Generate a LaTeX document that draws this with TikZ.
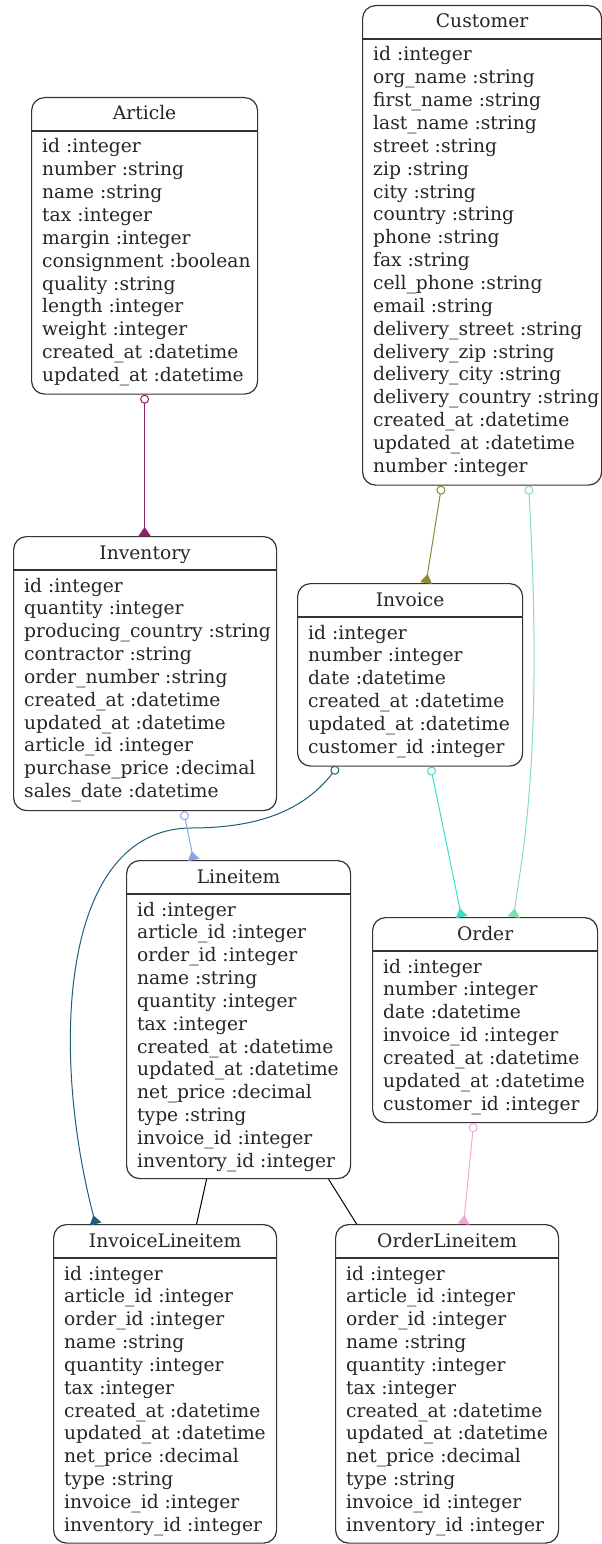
\documentclass[tikz,border=0pt]{standalone}
\usepackage{fontspec}
\setmainfont{DejaVu Serif}
\usetikzlibrary{calc,arrows.meta}
\definecolor{cA}{HTML}{8E1E6E}
\definecolor{cB}{HTML}{8C8A3A}
\definecolor{cC}{HTML}{86DDB0}
\definecolor{cD}{HTML}{3ADEC8}
\definecolor{cE}{HTML}{1E5E78}
\definecolor{cF}{HTML}{8EA2E6}
\definecolor{cG}{HTML}{EEAADA}
\tikzset{
  x=1pt,y=1pt,
  ebox/.style={draw=black!80,line width=1.2pt,rounded corners=13pt,fill=white,inner sep=0pt},
  erule/.style={draw=black!80,line width=1.2pt},
  etext/.style={inner sep=0pt,text=black!85,font=\fontsize{18.67}{22}\selectfont},
  rel/.style={line width=1pt,{Circle[open,length=9pt,width=9pt]}-{Triangle[reversed,length=9pt,width=12pt]}},
  plain/.style={line width=1pt,black}
}
\newcommand{\entity}[7]{%
  \node[ebox,minimum width=#4pt,minimum height=#5pt,anchor=north west] (#1) at (#2,-#3) {};
  \node[etext,anchor=base] (#1-t) at ($(#1.north)+(0,-23)$) {#6};
  \draw[erule] ($(#1.north west)+(0,-34)$) -- ($(#1.north east)+(0,-34)$);
  \foreach \a [count=\i] in {#7} {
    \node[etext,anchor=base west] (#1-\i) at ($(#1.north west)+(11,-56-\i*22.85+22.85)$) {\a};
  }%
}
\begin{document}
\begin{tikzpicture}
\useasboundingbox (0,0) rectangle (602,-1544);
\entity{article}{31}{97}{226}{296.5}{Article}{id :integer,number :string,name :string,tax :integer,margin :integer,consignment :boolean,quality :string,length :integer,weight :integer,created\_at :datetime,updated\_at :datetime}
\entity{customer}{362}{5}{239}{479.5}{Customer}{id :integer,org\_name :string,first\_name :string,last\_name :string,street :string,zip :string,city :string,country :string,phone :string,fax :string,cell\_phone :string,email :string,delivery\_street :string,delivery\_zip :string,delivery\_city :string,delivery\_country :string,created\_at :datetime,updated\_at :datetime,number :integer}
\entity{inventory}{13}{536}{263}{274}{Inventory}{id :integer,quantity :integer,producing\_country :string,contractor :string,order\_number :string,created\_at :datetime,updated\_at :datetime,article\_id :integer,purchase\_price :decimal,sales\_date :datetime}
\entity{invoice}{297}{583}{225}{182.5}{Invoice}{id :integer,number :integer,date :datetime,created\_at :datetime,updated\_at :datetime,customer\_id :integer}
\entity{lineitem}{126}{860}{224}{318}{Lineitem}{id :integer,article\_id :integer,order\_id :integer,name :string,quantity :integer,tax :integer,created\_at :datetime,updated\_at :datetime,net\_price :decimal,type :string,invoice\_id :integer,inventory\_id :integer}
\entity{order}{372}{917}{225}{205}{Order}{id :integer,number :integer,date :datetime,invoice\_id :integer,created\_at :datetime,updated\_at :datetime,customer\_id :integer}
\entity{invli}{53}{1224}{223}{318.5}{InvoiceLineitem}{id :integer,article\_id :integer,order\_id :integer,name :string,quantity :integer,tax :integer,created\_at :datetime,updated\_at :datetime,net\_price :decimal,type :string,invoice\_id :integer,inventory\_id :integer}
\entity{ordli}{335}{1224}{223}{318.5}{OrderLineitem}{id :integer,article\_id :integer,order\_id :integer,name :string,quantity :integer,tax :integer,created\_at :datetime,updated\_at :datetime,net\_price :decimal,type :string,invoice\_id :integer,inventory\_id :integer}
% connectors
\draw[rel,cA] (article.south) -- (inventory.north -| article.south);
\draw[rel,cB] ([xshift=-40.5]customer.south) -- ([xshift=16]invoice.north);
\draw[rel,cC] ([xshift=46.5]customer.south) .. controls ([xshift=62]customer.south |- 0,-760) and ([xshift=36]order.north |- 0,-860) .. ([xshift=28.5]order.north);
\draw[rel,cD] ([xshift=20.5]invoice.south) -- ([xshift=-23.5]order.north);
\draw[rel,cE] ([xshift=-72.5]invoice.south) .. controls (300,-815) and (250,-828) .. (190,-828) .. controls (60,-830) and (50,-1050) .. ([xshift=-69.5]invli.north);
\draw[rel,cF] ([xshift=38.5]inventory.south) -- ([xshift=-45]lineitem.north);
\draw[plain] ([xshift=-32]lineitem.south) -- ([xshift=31.5]invli.north);
\draw[plain] ([xshift=90]lineitem.south) -- ([xshift=-90.5]ordli.north);
\draw[rel,cG] ([xshift=-11.5]order.south) -- ([xshift=16.5]ordli.north);
\end{tikzpicture}
\end{document}
